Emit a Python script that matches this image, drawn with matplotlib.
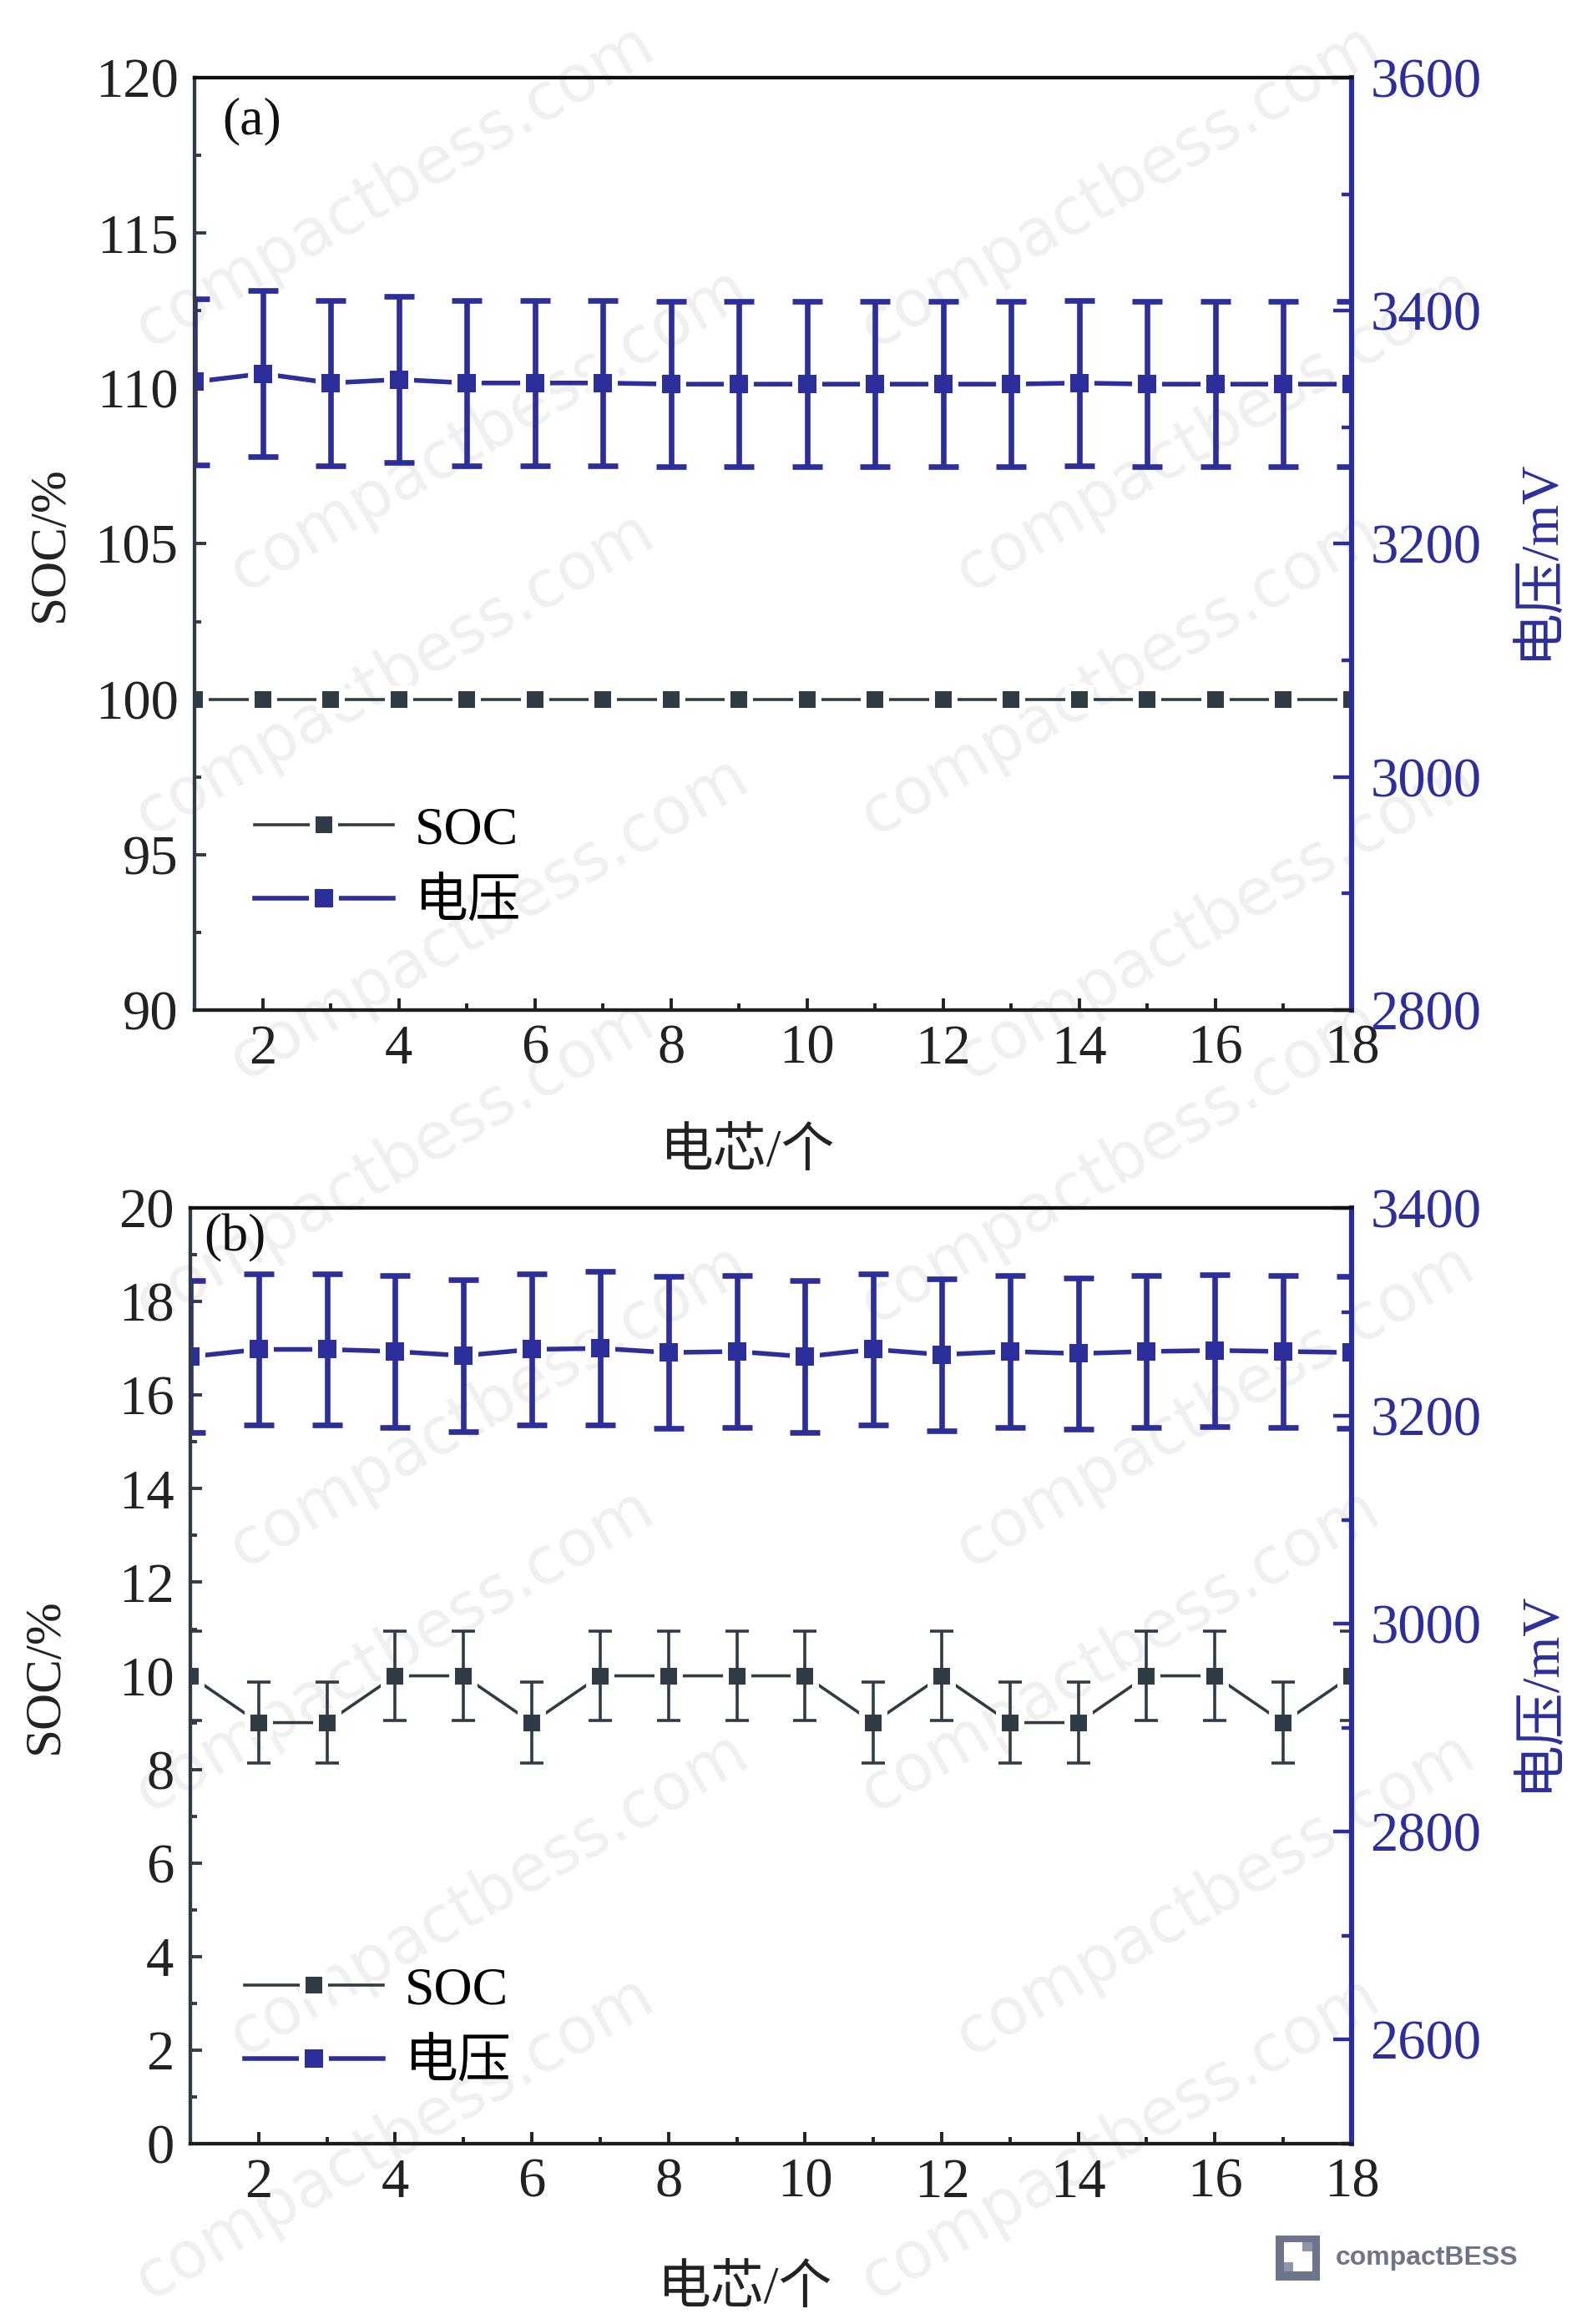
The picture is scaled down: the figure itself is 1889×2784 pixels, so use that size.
"""
Two stacked dual-axis panels: SOC (left axis) and cell voltage (right axis)
for 18 cells, with error bars.
"""

import matplotlib
matplotlib.use('Agg')
import matplotlib.pyplot as plt
from matplotlib.patches import Rectangle
from matplotlib.ticker import MultipleLocator

plt.rcParams['font.family'] = ['Liberation Serif', 'Noto Sans CJK SC']
plt.rcParams['axes.unicode_minus'] = False

# Data
cells = [1, 2, 3, 4, 5, 6, 7, 8, 9, 10, 11, 12, 13, 14, 15, 16, 17, 18]

# panel (a)
soc_a = [100, 100, 100, 100, 100, 100, 100, 100, 100, 100, 100, 100, 100, 100, 100, 100, 100, 100]
volt_a = [3339, 3346, 3338, 3341, 3338, 3338, 3338, 3337, 3337, 3337, 3337, 3337, 3337, 3338, 3337, 3337, 3337, 3337]
volt_a_err = [71, 71, 71, 71, 71, 71, 71, 71, 71, 71, 71, 71, 71, 71, 71, 71, 71, 71]

# panel (b)
soc_b = [10, 9, 9, 10, 10, 9, 10, 10, 10, 10, 9, 10, 9, 9, 10, 10, 9, 10]
soc_b_err = [0.95, 0.87, 0.87, 0.95, 0.95, 0.87, 0.95, 0.95, 0.95, 0.95, 0.87, 0.95, 0.87, 0.87, 0.95, 0.95, 0.87, 0.95]
volt_b = [3257, 3264, 3264, 3262, 3258, 3264, 3265, 3261, 3262, 3257, 3264, 3259, 3262, 3260, 3262, 3263, 3262, 3261]
volt_b_err = [73, 73, 73, 73, 73, 73, 74, 73, 73, 73, 73, 73, 73, 73, 73, 73, 73, 73]

SOC_C = '#2f3b45'
VOLT_C = '#2c2f9b'
FS = 22
TICK_FS = 24


def plot_series(ax, y, err, color, lw, elw, cap, ms):
    """
    Line with square markers; a white ring under the marker leaves the
    small gap between line and symbol seen in the original
    """
    under, = ax.plot(cells, y, color=color, lw=lw, marker='s', ms=ms,
                     mfc=color, mec='white', mew=5, zorder=2)
    if err is not None:
        ax.errorbar(cells, y, yerr=err, fmt='none', ecolor=color, elinewidth=elw,
                    capsize=cap, capthick=elw, zorder=2.1)
    top, = ax.plot(cells, y, ls='none', marker='s', ms=ms, mfc=color, mec=color,
                   mew=0, zorder=2.2)
    return (under, top)


def draw_panel(fig, rect, soc, soc_err, volt, volt_err, soc_lim, soc_major, soc_minor,
               volt_lim, tag, tag_pos, leg_pos, xlab_y):
    """
    This function draws one panel
    """
    ax = fig.add_axes(rect)
    ax.set_facecolor('none')
    ax2 = ax.twinx()

    h_soc = plot_series(ax, soc, soc_err, SOC_C, 1.3, 1.3, 5, 7.5)
    h_volt = plot_series(ax2, volt, volt_err, VOLT_C, 2.0, 2.4, 6.5, 8)

    # x axis
    ax.set_xlim(1, 18)
    ax.xaxis.set_major_locator(MultipleLocator(2))
    ax.xaxis.set_minor_locator(MultipleLocator(1))
    ax.tick_params(axis='x', which='both', direction='in', top=False, colors='#222222',
                   labelsize=TICK_FS, pad=6)
    ax.tick_params(axis='x', which='major', length=5, width=1.4)
    ax.tick_params(axis='x', which='minor', length=3, width=1.4)

    # left axis
    ax.set_ylim(*soc_lim)
    ax.yaxis.set_major_locator(MultipleLocator(soc_major))
    ax.yaxis.set_minor_locator(MultipleLocator(soc_minor))
    ax.tick_params(axis='y', which='both', direction='in', right=False, colors=SOC_C,
                   labelcolor='#222222', labelsize=TICK_FS, pad=7)
    ax.tick_params(axis='y', which='major', length=5, width=1.4)
    ax.tick_params(axis='y', which='minor', length=3, width=1.4)

    # right axis
    ax2.set_ylim(*volt_lim)
    ax2.yaxis.set_major_locator(MultipleLocator(200))
    ax2.yaxis.set_minor_locator(MultipleLocator(100))
    ax2.tick_params(axis='y', which='both', direction='in', colors=VOLT_C,
                    labelsize=TICK_FS, pad=8)
    ax2.tick_params(axis='y', which='major', length=8, width=1.6)
    ax2.tick_params(axis='y', which='minor', length=4.5, width=1.6)

    # spines
    for a in (ax, ax2):
        a.spines['left'].set_color(SOC_C)
        a.spines['left'].set_linewidth(1.5)
        a.spines['bottom'].set_color('#1e1e1e')
        a.spines['bottom'].set_linewidth(1.5)
        a.spines['top'].set_color('#111111')
        a.spines['top'].set_linewidth(1.5)
        a.spines['right'].set_color(VOLT_C)
        a.spines['right'].set_linewidth(2.2)

    # labels
    ax.set_xlabel('电芯/个', fontsize=FS + 1, color='#222222')
    ax.xaxis.set_label_coords(0.478, xlab_y)
    ax.set_ylabel('SOC/%', fontsize=FS, color='#222222')
    ax.yaxis.set_label_coords(-0.105, 0.5)
    ax2.set_ylabel('电压/mV', fontsize=FS + 1, color=VOLT_C)
    ax2.yaxis.set_label_coords(1.141, 0.484)

    ax.text(tag_pos[0], tag_pos[1], tag, transform=ax.transAxes, fontsize=FS + 1,
            ha='left', va='center', color='#111111')

    # Set the legend
    ax2.legend([h_soc, h_volt], ['SOC', '电压'], loc='center left',
               bbox_to_anchor=leg_pos, frameon=False, fontsize=FS + 1,
               handlelength=2.6, handletextpad=0.4, labelspacing=0.45,
               borderpad=0, borderaxespad=0)
    return ax, ax2


def add_watermark(fig):
    """
    Faint diagonal site text behind the plots, plus the logo at the corner
    """
    for i in range(9):
        for j in range(2):
            x = 0.25 + 0.46 * j + 0.06 * (i % 2)
            y = 0.92 - 0.105 * i
            fig.text(x, y, 'compactbess.com', rotation=30, fontsize=28,
                     family='DejaVu Sans', color='#f0f0f0', ha='center', va='center',
                     zorder=-5)

    fig.patches.append(Rectangle((0.8085, 0.0187), 0.028, 0.0194, transform=fig.transFigure,
                                 facecolor='#6e7489', edgecolor='none', zorder=5))
    fig.patches.append(Rectangle((0.8135, 0.0226), 0.018, 0.0125, transform=fig.transFigure,
                                 facecolor='white', edgecolor='none', zorder=6))
    fig.patches.append(Rectangle((0.8255, 0.0311), 0.006, 0.004, transform=fig.transFigure,
                                 facecolor='#9096a8', edgecolor='none', zorder=7))
    fig.patches.append(Rectangle((0.8135, 0.0226), 0.006, 0.004, transform=fig.transFigure,
                                 facecolor='#9096a8', edgecolor='none', zorder=7))
    fig.text(0.8465, 0.0284, 'compactBESS', fontsize=11.5, family='Liberation Sans',
             fontweight='bold', color='#6e7489', ha='left', va='center', zorder=8)


def main():
    fig = plt.figure(figsize=(9.45, 13.92), dpi=200)
    fig.patch.set_facecolor('white')
    add_watermark(fig)

    draw_panel(fig, [0.1233, 0.5654, 0.7333, 0.4012], soc_a, None, volt_a, volt_a_err,
               (90, 120), 5, 2.5, (2800, 3600), '(a)', (0.024, 0.953), (0.052, 0.153), -0.127)
    draw_panel(fig, [0.1206, 0.0776, 0.736, 0.4026], soc_b, soc_b_err, volt_b, volt_b_err,
               (0, 20), 2, 1, (2500, 3400), '(b)', (0.012, 0.968), (0.047, 0.124), -0.13)

    fig.savefig('out.png', dpi=200, facecolor='white')


if __name__ == '__main__':
    main()
